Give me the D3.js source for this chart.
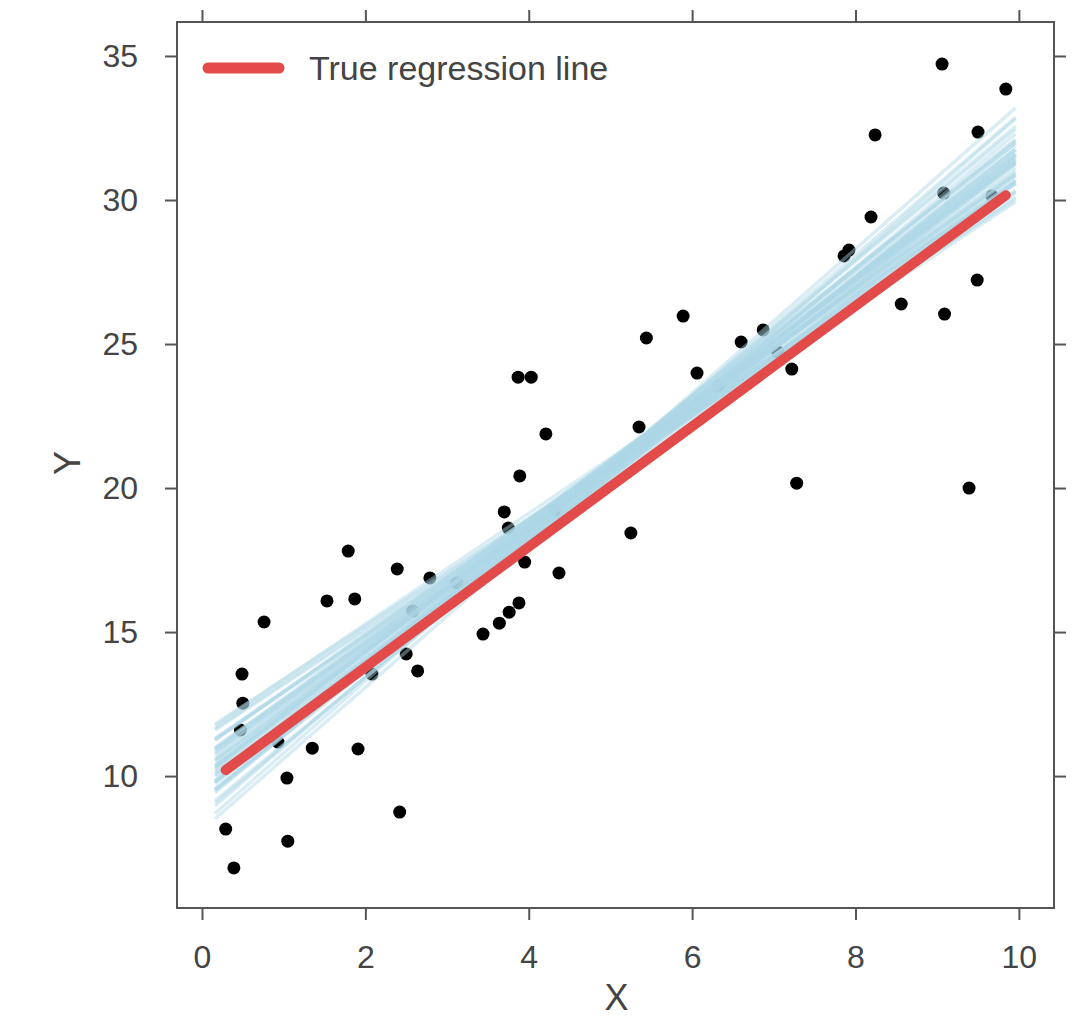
<!DOCTYPE html>
<head>
  <meta charset="utf-8">
  <script src="https://d3js.org/d3.v7.min.js"></script>
  <style>
    body { margin: 0; background: #fff; }
    svg { width: 1077px; height: 1017px; display: block; }
    text { font-family: "Liberation Sans", Arial, sans-serif; fill: #444; }
  </style>
</head>

<body>
  <svg></svg>

  <script>
    const width = 1077;
    const height = 1017;

    // observed data points
    const pointX = [0.29, 0.39, 0.47, 0.50, 0.49, 0.76, 0.93, 1.04, 1.05, 1.35,
      1.53, 1.79, 1.87, 1.91, 2.08, 2.39, 2.42, 2.50, 2.58, 2.64,
      2.79, 3.12, 3.44, 3.64, 3.70, 3.75, 3.76, 3.88, 3.89, 3.95,
      4.21, 4.32, 4.37, 5.25, 5.35, 5.44, 5.89, 6.06, 6.32, 6.60,
      6.87, 7.05, 7.22, 7.28, 7.86, 7.92, 8.19, 8.24, 8.56, 9.06,
      9.08, 9.09, 9.39, 9.49, 9.50, 9.67, 9.84, 3.87, 4.03];
    const pointY = [8.16, 6.81, 11.60, 12.53, 13.54, 15.35, 11.18, 9.93, 7.74, 10.97,
      16.08, 17.81, 16.15, 10.94, 13.54, 17.19, 8.75, 14.24, 15.73, 13.65,
      16.88, 16.70, 14.93, 15.31, 19.17, 18.61, 15.69, 16.01, 20.42, 17.43,
      21.88, 19.24, 17.05, 18.44, 22.12, 25.21, 25.97, 23.99, 23.54, 25.07,
      25.49, 24.72, 24.13, 20.17, 28.06, 28.26, 29.41, 32.26, 26.39, 34.72,
      30.24, 26.04, 20.00, 27.22, 32.36, 30.14, 33.85, 23.85, 23.85];

    // posterior samples of the regression line
    const postIntercept = [10.01, 10.47, 9.47, 9.39, 11.33, 10.63, 8.69, 9.95, 10.68, 9.43,
      10.92, 9.76, 9.19, 11.31, 9.88, 9.65, 10.61, 10.19, 8.78, 9.15,
      11.00, 10.24, 9.43, 11.50, 9.98, 10.03, 8.12, 10.95, 10.18, 9.68,
      11.44, 9.15, 10.01, 10.53, 8.57, 9.15, 10.28, 9.48, 10.98, 10.57,
      8.30, 9.05, 10.40, 9.80];
    const postSlope = [2.14, 2.02, 2.27, 2.20, 1.90, 2.07, 2.37, 2.17, 1.97, 2.24,
      2.00, 2.12, 2.30, 1.87, 2.22, 2.17, 2.04, 2.10, 2.32, 2.34,
      1.94, 2.12, 2.22, 1.86, 2.07, 2.18, 2.48, 1.98, 2.06, 2.20,
      1.92, 2.27, 2.15, 2.02, 2.44, 2.24, 2.08, 2.26, 1.92, 2.04,
      2.50, 2.36, 2.11, 2.19];
    const postRange = [0.16, 9.96];

    // true regression line
    const trueIntercept = 9.6;
    const trueSlope = 2.09;
    const trueRange = [0.29, 9.84];

    const xTicks = [0, 2, 4, 6, 8, 10];
    const yTicks = [10, 15, 20, 25, 30, 35];

    const mLeft = 177, mRight = 1054, mTop = 22, mBottom = 908;

    const x = d3.scaleLinear().domain([-0.306, 10.43]).range([mLeft, mRight]);
    const y = d3.scaleLinear().domain([5.42, 36.18]).range([mBottom, mTop]);

    const svg = d3.select('svg')
      .attr('viewBox', `0 0 ${width} ${height}`);

    const plot = svg.append('g');

    // data points (drawn first so the lines cover them)
    plot.selectAll('circle.pt')
      .data(d3.range(pointX.length))
      .enter().append('circle')
      .attr('class', 'pt')
      .attr('cx', i => x(pointX[i]))
      .attr('cy', i => y(pointY[i]))
      .attr('r', 6.5)
      .attr('fill', '#000');

    // posterior lines
    plot.selectAll('line.post')
      .data(d3.range(postIntercept.length))
      .enter().append('line')
      .attr('class', 'post')
      .attr('x1', x(postRange[0]))
      .attr('x2', x(postRange[1]))
      .attr('y1', i => y(postIntercept[i] + postSlope[i] * postRange[0]))
      .attr('y2', i => y(postIntercept[i] + postSlope[i] * postRange[1]))
      .attr('stroke', 'lightblue')
      .attr('stroke-opacity', 0.45)
      .attr('stroke-width', 3.5);

    // true line
    plot.append('line')
      .attr('x1', x(trueRange[0]))
      .attr('x2', x(trueRange[1]))
      .attr('y1', y(trueIntercept + trueSlope * trueRange[0]))
      .attr('y2', y(trueIntercept + trueSlope * trueRange[1]))
      .attr('stroke', '#e34a4a')
      .attr('stroke-width', 10)
      .attr('stroke-linecap', 'round');

    // axes, ticks outward on all sides
    const axisStyle = g => {
      g.select('.domain').remove();
      g.selectAll('.tick line').attr('stroke', '#555').attr('stroke-width', 2);
      g.selectAll('.tick text')
        .attr('fill', '#444')
        .style('font-size', '32px')
        .style('font-family', '"Liberation Sans", Arial, sans-serif');
    };

    svg.append('g')
      .attr('transform', `translate(0,${mBottom})`)
      .call(d3.axisBottom(x).tickValues(xTicks).tickSize(12).tickPadding(25).tickFormat(d3.format('d')))
      .call(axisStyle);
    svg.append('g')
      .attr('transform', `translate(0,${mTop})`)
      .call(d3.axisTop(x).tickValues(xTicks).tickSize(12).tickFormat(''))
      .call(axisStyle);
    svg.append('g')
      .attr('transform', `translate(${mLeft},0)`)
      .call(d3.axisLeft(y).tickValues(yTicks).tickSize(12).tickPadding(27).tickFormat(d3.format('d')))
      .call(axisStyle);
    svg.append('g')
      .attr('transform', `translate(${mRight},0)`)
      .call(d3.axisRight(y).tickValues(yTicks).tickSize(12).tickFormat(''))
      .call(axisStyle);

    // frame
    svg.append('rect')
      .attr('x', mLeft)
      .attr('y', mTop)
      .attr('width', mRight - mLeft)
      .attr('height', mBottom - mTop)
      .attr('fill', 'none')
      .attr('stroke', '#555')
      .attr('stroke-width', 2);

    // axis labels
    svg.append('text')
      .attr('x', (mLeft + mRight) / 2 + 1)
      .attr('y', 1010)
      .attr('text-anchor', 'middle')
      .style('font-size', '36px')
      .text('X');
    svg.append('text')
      .attr('transform', `translate(80,463) rotate(-90)`)
      .attr('text-anchor', 'middle')
      .style('font-size', '36px')
      .text('Y');

    // legend
    svg.append('line')
      .attr('x1', 208).attr('x2', 279)
      .attr('y1', 68).attr('y2', 68)
      .attr('stroke', '#e34a4a')
      .attr('stroke-width', 11)
      .attr('stroke-linecap', 'round');
    svg.append('text')
      .attr('x', 309)
      .attr('y', 80)
      .style('font-size', '34px')
      .text('True regression line');
  </script>
</body>
